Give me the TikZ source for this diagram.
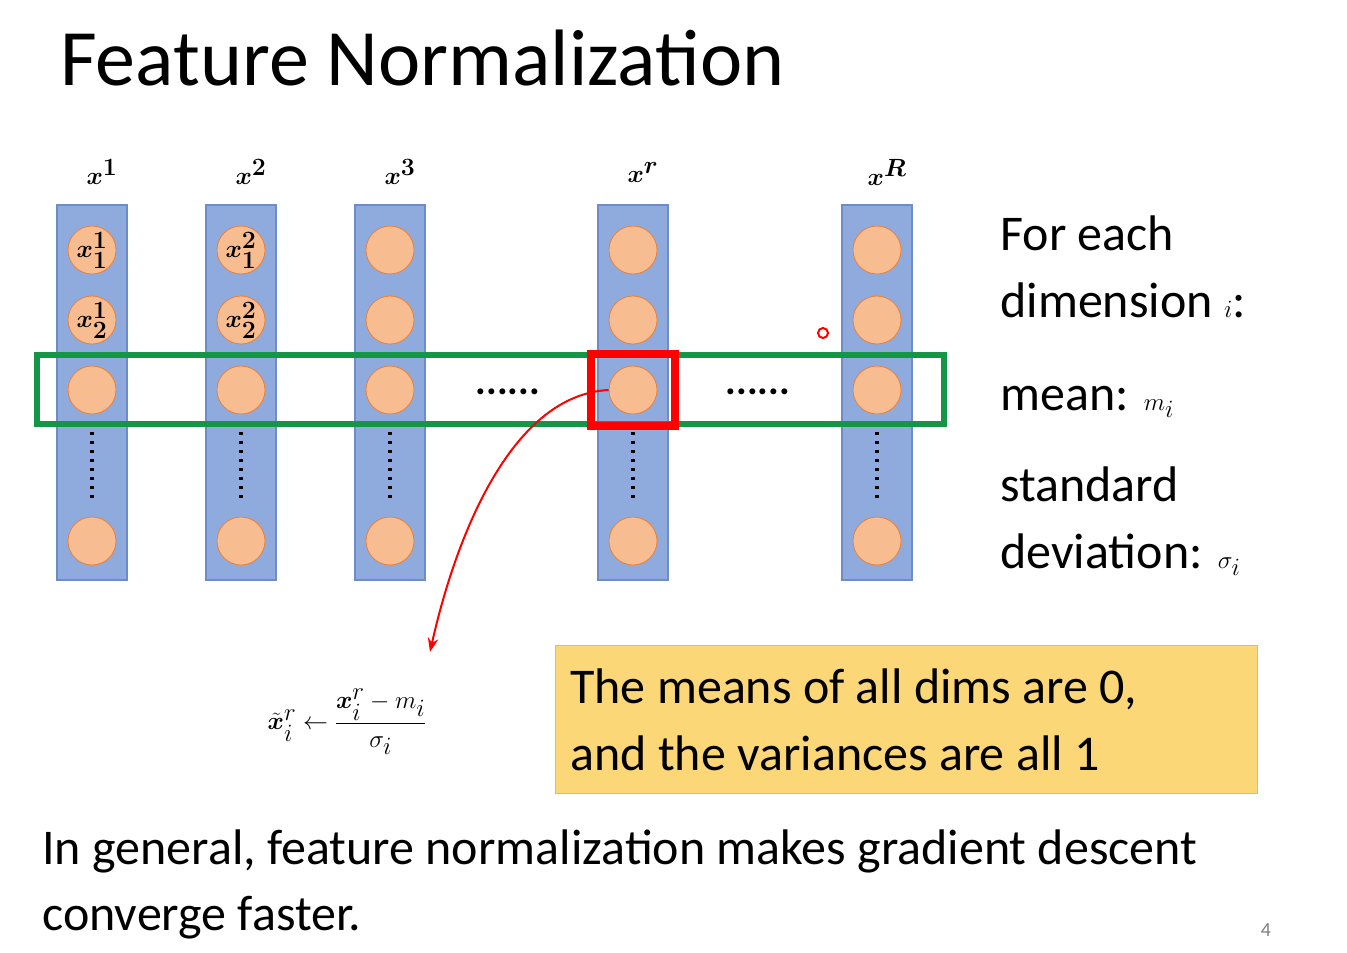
\documentclass[tikz,border=0pt]{standalone}
\usepackage{fontspec}
\setmainfont{Carlito}
\usepackage{amsmath,bm}
\usetikzlibrary{arrows.meta}
\tikzset{every picture/.style={line width=0.75pt}}
\definecolor{colblue}{RGB}{143,170,220}
\definecolor{coledge}{RGB}{110,140,200}
\definecolor{ballfill}{RGB}{248,188,145}
\definecolor{balledge}{RGB}{237,125,49}
\definecolor{boxgreen}{RGB}{20,150,70}
\definecolor{boxyellow}{RGB}{252,215,120}
\definecolor{boxedge}{RGB}{240,190,60}
\tikzset{
  column/.style={draw=coledge,fill=colblue,line width=1.2pt},
  ball/.style={circle,draw=balledge,fill=ballfill,minimum size=48pt,inner sep=0pt,font=\fontsize{34}{34}\selectfont},
  head/.style={font=\fontsize{46}{46}\selectfont},
  side/.style={anchor=base west,inner sep=0pt,font=\fontsize{50}{50}\selectfont}
}
\begin{document}
\begin{tikzpicture}[x=1pt,y=1pt,yscale=-1]
	\path[use as bounding box,fill=white] (0,0) rectangle (1347,953);
	
	% Title
	\node[anchor=base west,inner sep=0pt,font=\fontsize{80}{80}\selectfont] (title) at (60,85) {Feature Normalization};
	
	% Columns
	\foreach \cx/\lab [count=\k] in {92/1,241/2,390/3,633/r,877/R}{
		\draw[column] (\cx-35,205) rectangle (\cx+35,580);
		\node[head] (head\k) at (\cx+10,172) {$\bm{x^{\lab}}$};
		\node[ball] (b\k-3) at (\cx,390) {};
		\node[ball] (b\k-4) at (\cx,541) {};
		\draw[line width=4pt,dash pattern=on 3pt off 6pt] (\cx,432) -- (\cx,500);
	}
	\foreach \cx/\lab [count=\k] in {92/1,241/2}{
		\node[ball] (b\k-1) at (\cx,250) {$\bm{x_1^{\lab}}$};
		\node[ball] (b\k-2) at (\cx,320) {$\bm{x_2^{\lab}}$};
	}
	\foreach \cx [count=\k from 3] in {390,633,877}{
		\node[ball] (b\k-1) at (\cx,250) {};
		\node[ball] (b\k-2) at (\cx,320) {};
	}
	
	% Dimension i
	\draw[boxgreen,line width=6pt] (37,355) rectangle (944,424);
	\node[font=\fontsize{40}{40}\selectfont\bfseries] (dotsa) at (508,392) {......};
	\node[font=\fontsize{40}{40}\selectfont\bfseries] (dotsb) at (758,392) {......};
	\draw[red,line width=8pt] (b4-3.center) ++(-42,-36) rectangle ++(84,72);
	\draw[red,line width=2pt] (823,333) circle (5);
	
	% Formula
	\node[font=\fontsize{48}{48}\selectfont] (formula) at (347,722) {$\tilde{\bm{x}}_i^r \leftarrow \dfrac{\bm{x}_i^r - m_i}{\sigma_i}$};
	\coordinate (fhead) at (430,652);
	\draw[red,line width=2pt,-{Stealth[length=14pt]}] (b4-3.west) .. controls (510,395) and (455,540) .. (fhead);
	
	% Note
	\node[draw=boxedge,fill=boxyellow,line width=1.2pt,anchor=north west,minimum width=702pt,minimum height=148pt,inner sep=0pt] (note) at (555,645) {};
	\node[side] (note1) at (570,703) {The means of all dims are 0,};
	\node[side] (note2) at (570,770) {and the variances are all 1};
	
	% Right side text
	\node[side] (s1) at (1000,250) {For each};
	\node[side] (s2) at (1000,317) {dimension $i$:};
	\node[side] (s3) at (1000,410) {mean: $m_i$};
	\node[side] (s4) at (1000,501) {standard};
	\node[side] (s5) at (1000,568) {deviation: $\sigma_i$};
	
	% Bottom
	\node[side] (bot1) at (42,864) {In general, feature normalization makes gradient descent};
	\node[side] (bot2) at (42,930) {converge faster.};
	\node[anchor=base,inner sep=0pt,text=gray,font=\fontsize{20}{20}\selectfont] (page) at (1266,936) {4};
\end{tikzpicture}
\end{document}
